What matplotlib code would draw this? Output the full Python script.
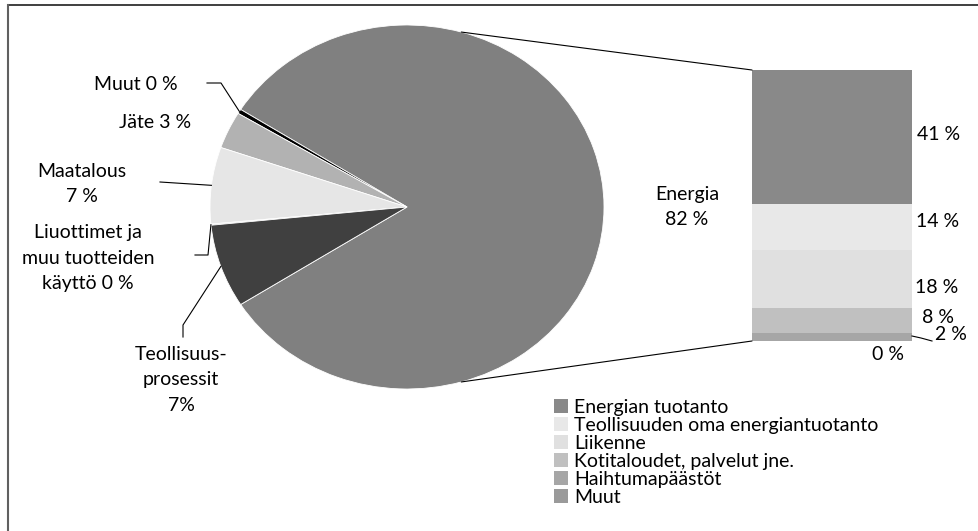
import matplotlib
matplotlib.use("Agg")
import matplotlib.pyplot as plt
import numpy as np
from matplotlib.lines import Line2D
from matplotlib.patches import ConnectionPatch

plt.rcParams["font.family"] = ["Lato", "DejaVu Sans"]

# ── data ─────────────────────────────────────────────
pie_labels = ["Energia", "Muut", "Jäte", "Maatalous",
              "Liuottimet ja muu tuotteiden käyttö", "Teollisuusprosessit"]
pie_values = [82.0, 0.4, 3.3, 6.8, 0.1, 7.4]
pie_texts = ["Energia\n82 %", "Muut 0 %", "Jäte 3 %", "Maatalous\n7 %",
             "Liuottimet ja\nmuu tuotteiden\nkäyttö 0 %", "Teollisuus-\nprosessit\n7%"]
pie_colors = ["#808080", "#000000", "#b2b2b2", "#e6e6e6", "#d0d0d0", "#404040"]

bar_labels = ["Energian tuotanto", "Teollisuuden oma energiantuotanto", "Liikenne",
              "Kotitaloudet, palvelut jne.", "Haihtumapäästöt", "Muut"]
bar_values = [41.0, 14.4, 17.6, 7.7, 2.4, 0.1]
bar_colors = ["#898989", "#e8e8e8", "#e0e0e0", "#c0c0c0", "#a6a6a6", "#9a9a9a"]

W, H = 979, 531
FS = 14

fig = plt.figure(figsize=(W / 100, H / 100), dpi=100)


def px(x, y):
    """image pixel (top-left origin) -> figure fraction"""
    return x / W, 1 - y / H


def px_axes(x0, y0, x1, y1):
    return fig.add_axes([x0 / W, 1 - y1 / H, (x1 - x0) / W, (y1 - y0) / H])


# ── pie ──────────────────────────────────────────────
ax_pie = px_axes(210, 25, 604, 389)
start = -pie_values[0] / sum(pie_values) * 360 / 2
wedges, _ = ax_pie.pie(pie_values, colors=pie_colors, startangle=start,
                       wedgeprops=dict(edgecolor="white", linewidth=0.6))
ax_pie.set_aspect("auto")
ax_pie.set_xlim(-1, 1)
ax_pie.set_ylim(-1, 1)
ax_pie.axis("off")


def wedge_edge_px(w):
    a = np.deg2rad((w.theta1 + w.theta2) / 2)
    xd, yd = ax_pie.transData.transform((np.cos(a), np.sin(a)))
    return xd, H - yd


# text anchor (px), alignment, leader knee points (px)
label_pos = {
    "Energia": ((687, 207), "center", None),
    "Muut": ((178, 85), "right", [(207, 83), (221, 83)]),
    "Jäte": ((155, 122), "center", None),
    "Maatalous": ((82, 184), "center", [(160, 182)]),
    "Liuottimet ja muu tuotteiden käyttö": ((88, 258), "center", [(195, 255), (208, 255)]),
    "Teollisuusprosessit": ((181, 380), "center", [(183, 337), (183, 325)]),
}

for w, name, txt in zip(wedges, pie_labels, pie_texts):
    (tx, ty), ha, knees = label_pos[name]
    fig.text(*px(tx, ty), txt, ha=ha, va="center", fontsize=FS,
             multialignment="center", linespacing=1.6)
    if knees:
        pts = knees + [wedge_edge_px(w)]
        xs, ys = zip(*[px(x, y) for x, y in pts])
        fig.add_artist(Line2D(xs, ys, color="black", lw=0.8))

# ── bar ──────────────────────────────────────────────
ax_bar = px_axes(752, 70, 912, 341)
total = sum(bar_values)
bottom = 0
mids = {}
for lab, v, c in reversed(list(zip(bar_labels, bar_values, bar_colors))):
    ax_bar.bar(0, v, width=1, bottom=bottom, color=c, label=lab)
    mids[lab] = bottom + v / 2
    bottom += v
ax_bar.set_xlim(-0.5, 0.5)
ax_bar.set_ylim(0, total)
ax_bar.axis("off")

# label offsets in pixels from the bar's right edge at segment middle
bar_label_off = [(5, 2), (4, 5), (3, -8), (10, 3), (23, 2), None]
for lab, v, off in zip(bar_labels, bar_values, bar_label_off):
    txt = f"{v:.0f} %"
    if off is None:
        ax_bar.annotate(txt, xy=(0.5, 0), xytext=(-24, -14), textcoords="offset pixels",
                        ha="center", va="center", fontsize=FS)
        continue
    ax_bar.annotate(txt, xy=(0.5, mids[lab]), xytext=off, textcoords="offset pixels",
                    ha="left", va="center", fontsize=FS)
    if lab == "Haihtumapäästöt":
        xs, ys = zip(*[px(x, y) for x, y in [(912, 336), (921, 338), (932, 341)]])
        fig.add_artist(Line2D(xs, ys, color="black", lw=0.8))

# connector lines pie -> bar
for ang, yb in [(74, total), (-74, 0)]:
    a = np.deg2rad(ang)
    con = ConnectionPatch(xyA=(np.cos(a), np.sin(a)), coordsA=ax_pie.transData,
                          xyB=(-0.5, yb), coordsB=ax_bar.transData,
                          color="black", lw=0.8)
    fig.add_artist(con)

# legend
handles, labels = ax_bar.get_legend_handles_labels()
fig.legend(handles[::-1], labels[::-1], loc="upper left",
           bbox_to_anchor=px(554, 399), frameon=False, fontsize=FS,
           handlelength=0.7, handleheight=0.7, handletextpad=0.35,
           labelspacing=0.05, borderpad=0, borderaxespad=0)

# chart frame (only top and left edges are inside the image)
fig.add_artist(Line2D(*zip(px(8, 5), px(W, 5)), color="#303030", lw=1.3))
fig.add_artist(Line2D(*zip(px(8, 5), px(8, H)), color="#606060", lw=1.5))

fig.savefig("out.png", dpi=100, facecolor="white")
